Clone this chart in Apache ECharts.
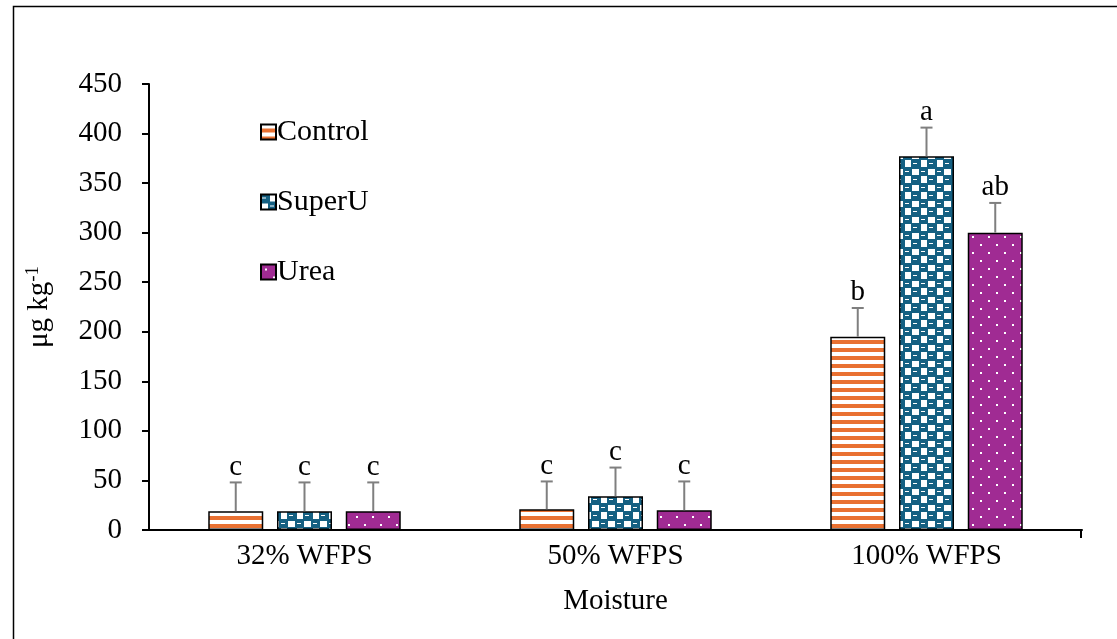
<!DOCTYPE html>
<html>
<head>
<meta charset="utf-8">
<script src="https://cdn.jsdelivr.net/npm/echarts@6/dist/echarts.min.js"></script>
<style>
html,body{margin:0;padding:0;background:#fff;}
#chart{width:1117px;height:639px;}
</style>
</head>
<body>
<div id="chart"></div>
<script>
// ---- data ----
var categories = ['32% WFPS', '50% WFPS', '100% WFPS'];
var seriesNames = ['Control', 'SuperU', 'Urea'];
var controlValues = [19, 21, 195];
var superUValues = [19, 34, 377];
var ureaValues = [19, 20, 300];
var controlErrors = [29, 28, 29];
var superUErrors = [29, 29, 29];
var ureaErrors = [29, 29, 30];
var controlLetters = ['c', 'c', 'b'];
var superULetters = ['c', 'c', 'a'];
var ureaLetters = ['c', 'c', 'ab'];
var yTicks = [0, 50, 100, 150, 200, 250, 300, 350, 400, 450];

// ---- patterns ----
function makeTile(w, h, draw) {
  var c = document.createElement('canvas');
  c.width = w; c.height = h;
  draw(c.getContext('2d'));
  return c;
}
var ORANGE = '#E97132', BLUE = '#156082', PURPLE = '#A02B93';
var stripeTile = makeTile(8, 8, function (g) {
  g.fillStyle = '#fff'; g.fillRect(0, 0, 8, 8);
  g.fillStyle = ORANGE; g.fillRect(0, 4, 8, 4);
});
var checkTile = makeTile(16, 16, function (g) {
  g.fillStyle = '#fff'; g.fillRect(0, 0, 16, 16);
  function blob(x, y) {
    g.fillStyle = BLUE;
    g.fillRect(x + 1, y, 8, 10);
    g.fillRect(x, y + 1, 10, 8);
    g.fillStyle = '#fff'; g.fillRect(x + 2, y + 4, 4, 1);
  }
  blob(-1, -1); blob(7, 7); blob(15, -1); blob(-1, 15); blob(15, 15);
});
var dotTile = makeTile(16, 16, function (g) {
  g.fillStyle = PURPLE; g.fillRect(0, 0, 16, 16);
  g.fillStyle = '#fff';
  g.fillRect(4, 4, 2, 2); g.fillRect(12, 12, 2, 2);
});
var patterns = [
  { image: stripeTile, repeat: 'repeat' },
  { image: checkTile, repeat: 'repeat' },
  { image: dotTile, repeat: 'repeat' }
];

var FONT = '"Liberation Serif", "Times New Roman", serif';
var FS = 29;
var BAR_W = 55, BAR_GAP = 0.25;
var valuesList = [controlValues, superUValues, ureaValues];
var errorsList = [controlErrors, superUErrors, ureaErrors];
var lettersList = [controlLetters, superULetters, ureaLetters];

var series = [];
seriesNames.forEach(function (name, i) {
  series.push({
    name: name, type: 'bar', data: valuesList[i],
    barWidth: BAR_W, barGap: (BAR_GAP * 100) + '%',
    itemStyle: { color: patterns[i], borderColor: '#000', borderWidth: 1.5 },
    z: 2
  });
});
seriesNames.forEach(function (name, i) {
  var offset = (i - 1) * BAR_W * (1 + BAR_GAP);
  series.push({
    name: name + ' err', type: 'custom', z: 3,
    data: valuesList[i].map(function (v, k) { return [k, v, errorsList[i][k]]; }),
    renderItem: function (params, api) {
      var base = api.coord([api.value(0), api.value(1)]);
      var top = api.coord([api.value(0), api.value(1) + api.value(2)]);
      var x = base[0] + offset;
      var st = { stroke: '#7F7F7F', lineWidth: 2 };
      return {
        type: 'group', children: [
          { type: 'line', shape: { x1: x, y1: base[1], x2: x, y2: top[1] }, style: st },
          { type: 'line', shape: { x1: x - 6, y1: top[1], x2: x + 6, y2: top[1] }, style: st },
          { type: 'text', style: { text: lettersList[i][params.dataIndex], x: x, y: top[1] - 1,
            textAlign: 'center', textVerticalAlign: 'bottom', font: FS + 'px ' + FONT, fill: '#000' } }
        ]
      };
    }
  });
});

var chart = echarts.init(document.getElementById('chart'));
chart.setOption({
  backgroundColor: '#fff',
  animation: false,
  grid: { left: 149, right: 35, top: 84, bottom: 109 },
  legend: {
    data: seriesNames, orient: 'vertical', left: 255, top: 112,
    itemWidth: 15, itemHeight: 15, itemGap: 40, icon: 'rect',
    textStyle: { fontFamily: FONT, fontSize: 30, color: '#000', padding: [0, 0, 0, -4] }
  },
  xAxis: {
    type: 'category', data: categories,
    name: 'Moisture', nameLocation: 'middle', nameGap: 57,
    nameTextStyle: { fontFamily: FONT, fontSize: FS, color: '#000' },
    axisLine: { lineStyle: { color: '#000', width: 2 } },
    axisTick: { alignWithLabel: true, length: 8, lineStyle: { color: '#000', width: 2 } },
    axisLabel: { fontFamily: FONT, fontSize: FS, color: '#000', margin: 12 }
  },
  yAxis: {
    type: 'value', min: yTicks[0], max: yTicks[yTicks.length - 1], interval: yTicks[1] - yTicks[0],
    name: '{n|μg kg}{s|-1}', nameLocation: 'middle', nameGap: 94,
    nameTextStyle: { rich: { n: { fontFamily: FONT, fontSize: FS, color: '#000' },
      s: { fontFamily: FONT, fontSize: 19, color: '#000', verticalAlign: 'top', padding: [0, 0, 12, 0] } } },
    splitLine: { show: false },
    axisLine: { show: true, lineStyle: { color: '#000', width: 2 } },
    axisTick: { show: true, length: 7, lineStyle: { color: '#000', width: 2 } },
    axisLabel: { fontFamily: FONT, fontSize: FS, color: '#000', margin: 27 }
  },
  series: series
});

// closing tick at the right end of the category axis (computed from the axis scale)
var c0 = chart.convertToPixel({ xAxisIndex: 0 }, 0);
var c1 = chart.convertToPixel({ xAxisIndex: 0 }, 1);
var cN = chart.convertToPixel({ xAxisIndex: 0 }, categories.length - 1);
var y0 = chart.convertToPixel({ yAxisIndex: 0 }, yTicks[0]);
var xEnd = cN + (c1 - c0) / 2;
chart.setOption({
  graphic: [
    { type: 'rect', shape: { x: 13.5, y: 6.5, width: 1120, height: 650 },
      style: { fill: 'none', stroke: '#000', lineWidth: 1.5 }, z: -1 },
    { type: 'line', shape: { x1: xEnd - 1, y1: y0, x2: xEnd - 1, y2: y0 + 8 },
      style: { stroke: '#000', lineWidth: 2 }, z: 5 }
  ]
});
</script>
</body>
</html>
